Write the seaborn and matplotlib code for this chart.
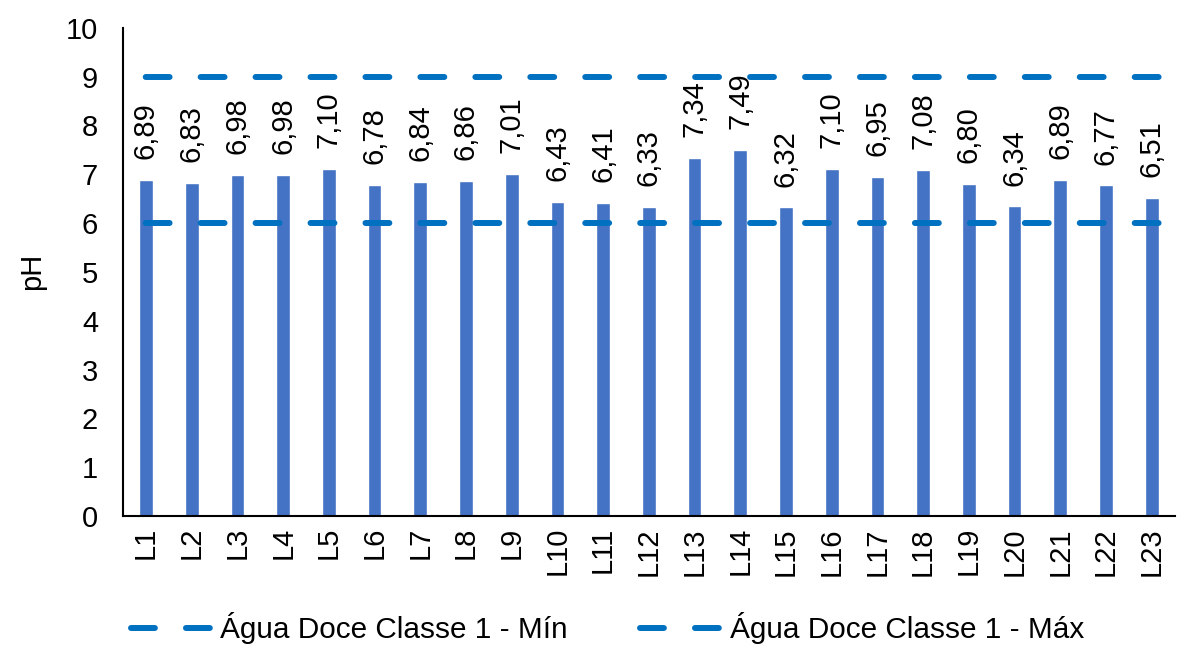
import numpy as np
import matplotlib
matplotlib.use("Agg")
import matplotlib.pyplot as plt
import seaborn as sns
from matplotlib.lines import Line2D

# data
pontos = ["L%d" % i for i in range(1, 24)]
ph = [6.89, 6.83, 6.98, 6.98, 7.10, 6.78, 6.84, 6.86, 7.01, 6.43, 6.41, 6.33,
      7.34, 7.49, 6.32, 7.10, 6.95, 7.08, 6.80, 6.34, 6.89, 6.77, 6.51]
lim_min = 6
lim_max = 9
nome_min = "Água Doce Classe 1 - Mín"
nome_max = "Água Doce Classe 1 - Máx"

sns.set_style("white")
plt.rcParams['font.family'] = ['Liberation Sans', 'DejaVu Sans']
plt.rcParams['text.color'] = 'black'
plt.rcParams['xtick.color'] = 'black'
plt.rcParams['ytick.color'] = 'black'
plt.rcParams['axes.labelcolor'] = 'black'

cor_barra = "#4472C4"
cor_linha = "#0070C0"
fs = 21

fig = plt.figure(figsize=(11.84, 6.45), dpi=100)
ax = fig.add_axes([0.104, 0.2, 0.888, 0.757])

sns.barplot(x=pontos, y=ph, color=cor_barra, saturation=1, width=0.3, ax=ax)

# rotulos dos valores
for i, v in enumerate(ph):
    ax.annotate(("%.2f" % v).replace(".", ","), (i, v), xytext=(0, 15),
                textcoords="offset points", rotation=90, ha="center", va="bottom",
                fontsize=fs)

estilo = (5.4, (4, 5.2))
for val in [lim_min, lim_max]:
    ax.axhline(val, color=cor_linha, lw=4.3, linestyle=estilo,
               dash_capstyle="round", zorder=3)

ax.set_ylim(0, 10)
ax.set_xlim(-0.5, len(pontos) - 0.5)
ax.set_yticks(range(0, 11))
ax.set_ylabel("pH", fontsize=fs, labelpad=14)
ax.set_xlabel("")
ax.tick_params(axis="both", length=0, labelsize=fs)
ax.tick_params(axis="y", pad=18)
ax.tick_params(axis="x", rotation=90, pad=8)
for s in ["top", "right"]:
    ax.spines[s].set_visible(False)
for s in ["left", "bottom"]:
    ax.spines[s].set_color("black")
    ax.spines[s].set_linewidth(1.5)

handles = [Line2D([], [], color=cor_linha, lw=4.3, linestyle=(0, (4, 5.2)),
                  dash_capstyle="round") for _ in range(2)]
fig.legend(handles, [nome_min, nome_max], loc="lower center",
           bbox_to_anchor=(0.513, -0.04), ncol=2, frameon=False, fontsize=21.4,
           handlelength=2.65, handletextpad=0.35, columnspacing=2.45)

fig.savefig("out.png", dpi=100)
